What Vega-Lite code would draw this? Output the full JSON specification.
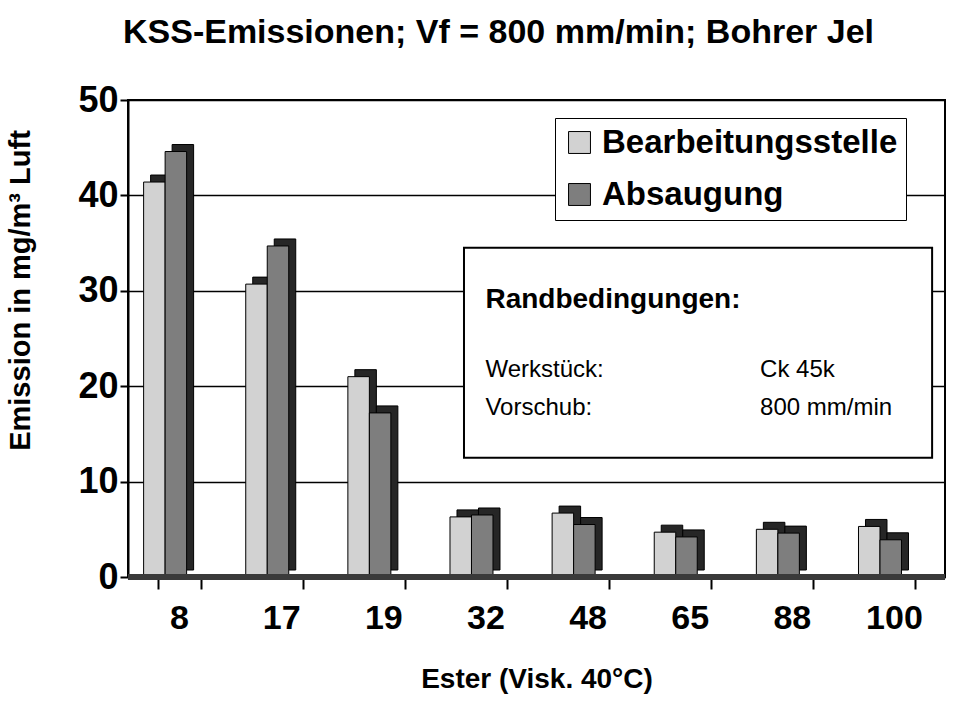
{
  "$schema": "https://vega.github.io/schema/vega-lite/v6.json",
  "autosize": "none",
  "padding": {"left": 128, "top": 100, "right": 18, "bottom": 128},
  "width": 817,
  "height": 477,
  "background": "white",
  "title": {
    "text": "KSS-Emissionen; Vf = 800 mm/min; Bohrer Jel",
    "font": "Liberation Sans",
    "fontSize": 34,
    "fontWeight": "bold",
    "color": "black",
    "anchor": "middle",
    "frame": "group",
    "baseline": "alphabetic",
    "offset": 5,
    "dx": -38
  },
  "config": {
    "font": "Liberation Sans",
    "view": {"stroke": "black", "strokeWidth": 2}
  },
  "resolve": {"scale": {"xOffset": "independent"}},
  "data": {
    "values": [
      {"viskositaet": "8", "messort": "Bearbeitungsstelle", "emission": 41.4},
      {"viskositaet": "8", "messort": "Absaugung", "emission": 44.6},
      {"viskositaet": "17", "messort": "Bearbeitungsstelle", "emission": 30.7},
      {"viskositaet": "17", "messort": "Absaugung", "emission": 34.7},
      {"viskositaet": "19", "messort": "Bearbeitungsstelle", "emission": 21.0},
      {"viskositaet": "19", "messort": "Absaugung", "emission": 17.2},
      {"viskositaet": "32", "messort": "Bearbeitungsstelle", "emission": 6.3},
      {"viskositaet": "32", "messort": "Absaugung", "emission": 6.5},
      {"viskositaet": "48", "messort": "Bearbeitungsstelle", "emission": 6.7},
      {"viskositaet": "48", "messort": "Absaugung", "emission": 5.5},
      {"viskositaet": "65", "messort": "Bearbeitungsstelle", "emission": 4.7},
      {"viskositaet": "65", "messort": "Absaugung", "emission": 4.2},
      {"viskositaet": "88", "messort": "Bearbeitungsstelle", "emission": 5.0},
      {"viskositaet": "88", "messort": "Absaugung", "emission": 4.6},
      {"viskositaet": "100", "messort": "Bearbeitungsstelle", "emission": 5.3},
      {"viskositaet": "100", "messort": "Absaugung", "emission": 3.9}
    ]
  },
  "layer": [
    {
      "mark": {"type": "bar", "color": "#262626", "yOffset": -7, "stroke": "black", "strokeWidth": 1},
      "encoding": {
        "x": {
          "field": "viskositaet",
          "type": "nominal",
          "sort": ["8", "17", "19", "32", "48", "65", "88", "100"],
          "scale": {"paddingInner": 0.58, "paddingOuter": 0.29},
          "axis": {
            "title": "Ester (Visk. 40°C)",
            "titleFont": "Liberation Sans",
            "titleFontSize": 28,
            "titleFontWeight": "bold",
            "titleColor": "black",
            "titlePadding": 30,
            "labelFont": "Liberation Sans",
            "labelFontSize": 34,
            "labelFontWeight": "bold",
            "labelColor": "black",
            "labelPadding": 12,
            "labelAngle": 0,
            "tickBand": "extent",
            "tickSize": 12,
            "tickColor": "black",
            "tickWidth": 2,
            "domainColor": "black",
            "domainWidth": 2
          }
        },
        "y": {
          "field": "emission",
          "type": "quantitative",
          "scale": {"domain": [0, 50]},
          "axis": {
            "title": "Emission in mg/m³ Luft",
            "titleFont": "Liberation Sans",
            "titleFontSize": 29,
            "titleFontWeight": "bold",
            "titleColor": "black",
            "titlePadding": 42,
            "titleY": 190,
            "values": [0, 10, 20, 30, 40, 50],
            "labelFont": "Liberation Sans",
            "labelFontSize": 36,
            "labelFontWeight": "bold",
            "labelColor": "black",
            "labelPadding": 2,
            "tickSize": 8,
            "tickColor": "black",
            "tickWidth": 2,
            "domainColor": "black",
            "domainWidth": 2,
            "grid": true,
            "gridColor": "black",
            "gridWidth": 1.5,
            "gridOpacity": 1
          }
        },
        "xOffset": {"field": "messort", "type": "nominal", "sort": ["Bearbeitungsstelle", "Absaugung"], "scale": {"range": [-7, 36], "paddingInner": 0, "paddingOuter": 0}}
      }
    },
    {
      "mark": {"type": "bar", "stroke": "black", "strokeWidth": 1},
      "encoding": {
        "x": {"field": "viskositaet", "type": "nominal", "sort": ["8", "17", "19", "32", "48", "65", "88", "100"]},
        "y": {"field": "emission", "type": "quantitative"},
        "xOffset": {"field": "messort", "type": "nominal", "sort": ["Bearbeitungsstelle", "Absaugung"], "scale": {"range": [-14, 29], "paddingInner": 0, "paddingOuter": 0}},
        "color": {
          "field": "messort",
          "type": "nominal",
          "scale": {"domain": ["Bearbeitungsstelle", "Absaugung"], "range": ["#d2d2d2", "#7e7e7e"]},
          "legend": {
            "title": null,
            "orient": "none",
            "legendX": 427,
            "legendY": 18,
            "direction": "vertical",
            "fillColor": "white",
            "strokeColor": "black",
            "padding": 8,
            "labelFont": "Liberation Sans",
            "labelFontSize": 33,
            "labelFontWeight": "bold",
            "labelColor": "black",
            "labelOffset": 6,
            "labelLimit": 500,
            "symbolType": "square",
            "symbolSize": 480,
            "symbolStrokeColor": "black",
            "symbolStrokeWidth": 1,
            "rowPadding": 18
          }
        }
      }
    },
    {
      "mark": {"type": "rule", "color": "#3a3a3a", "strokeWidth": 5},
      "encoding": {"y": {"datum": 0}}
    },
    {
      "data": {"values": [{}]},
      "mark": {"type": "rect", "fill": "white", "stroke": "black", "strokeWidth": 2},
      "encoding": {
        "x": {"datum": "32", "bandPosition": 0},
        "x2": {"datum": "100", "bandPosition": 1.39},
        "y": {"datum": 34.5},
        "y2": {"datum": 12.5}
      }
    },
    {
      "data": {"values": [{}]},
      "mark": {"type": "text", "text": "Randbedingungen:", "align": "left", "baseline": "middle", "fontSize": 28, "fontWeight": "bold", "color": "black"},
      "encoding": {"x": {"datum": "32"}, "y": {"datum": 29.0}}
    },
    {
      "data": {"values": [{}]},
      "mark": {"type": "text", "text": "Werkstück:", "align": "left", "baseline": "middle", "fontSize": 24, "color": "black"},
      "encoding": {"x": {"datum": "32"}, "y": {"datum": 21.7}}
    },
    {
      "data": {"values": [{}]},
      "mark": {"type": "text", "text": "Vorschub:", "align": "left", "baseline": "middle", "fontSize": 24, "color": "black"},
      "encoding": {"x": {"datum": "32"}, "y": {"datum": 17.7}}
    },
    {
      "data": {"values": [{}]},
      "mark": {"type": "text", "text": "Ck 45k", "align": "left", "baseline": "middle", "fontSize": 24, "color": "black"},
      "encoding": {"x": {"datum": "88", "bandPosition": -0.24}, "y": {"datum": 21.7}}
    },
    {
      "data": {"values": [{}]},
      "mark": {"type": "text", "text": "800 mm/min", "align": "left", "baseline": "middle", "fontSize": 24, "color": "black"},
      "encoding": {"x": {"datum": "88", "bandPosition": -0.24}, "y": {"datum": 17.7}}
    }
  ]
}
